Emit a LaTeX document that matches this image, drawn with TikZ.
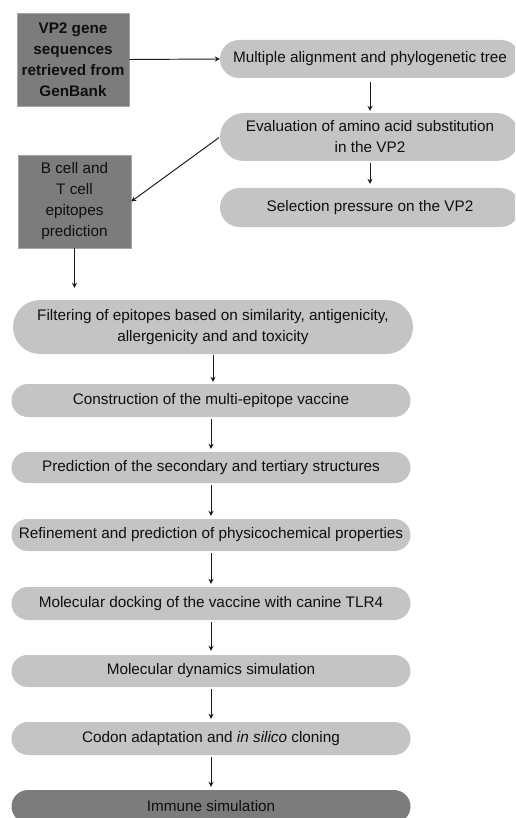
\documentclass[tikz,border=0pt]{standalone}
\usepackage{fontspec}
\setmainfont{Liberation Sans}
\usetikzlibrary{arrows.meta}
\definecolor{lightbox}{RGB}{196,196,196}
\definecolor{darkbox}{RGB}{124,124,124}
\definecolor{txt}{RGB}{15,15,15}
\begin{document}
\begin{tikzpicture}[x=1pt,y=-1pt,
  every node/.style={font=\fontsize{15.3}{21}\selectfont, text=txt, inner sep=0pt, align=center},
  sqbox/.style={rectangle, fill=darkbox, draw=gray!70, line width=0.5pt},
  pill/.style={rectangle, fill=lightbox, rounded corners=#1, minimum height=2*#1},
  arr/.style={-{Stealth[length=5pt,width=5pt]}, line width=0.95pt, draw=black!90}]
\useasboundingbox (0,0) rectangle (515,818);
\clip (0,0) rectangle (515,818);
% top left boxes
\node[sqbox, minimum width=112pt, minimum height=93pt, font=\fontsize{15.3}{21}\selectfont\bfseries] (vp2) at (73,59.5) {VP2 gene\\sequences\\retrieved from\\GenBank};
\node[sqbox, minimum width=113pt, minimum height=93pt] (bcell) at (74.5,201.5) {B cell and\\T cell\\epitopes\\prediction};
% right column
\node[pill=19pt, minimum width=300pt] (mult) at (370,59) {Multiple alignment and phylogenetic tree};
\node[pill=24pt, minimum width=300pt] (eval) at (370,137) {Evaluation of amino acid substitution\\in the VP2};
\node[pill=19.5pt, minimum width=300pt] (sel) at (370,207.5) {Selection pressure on the VP2};
% main column
\node[pill=27pt, minimum width=400pt] (filt) at (213,327) {Filtering of epitopes based on similarity, antigenicity,\\allergenicity and and toxicity};
\node[pill=16.5pt, minimum width=399pt] (cons) at (211,400.5) {Construction of the multi-epitope vaccine};
\node[pill=15.5pt, minimum width=399pt] (pred) at (211,467.5) {Prediction of the secondary and tertiary structures};
\node[pill=16pt, minimum width=399pt] (refi) at (211,535) {Refinement and prediction of physicochemical properties};
\node[pill=16.5pt, minimum width=399pt] (dock) at (211,603.5) {Molecular docking of the vaccine with canine TLR4};
\node[pill=16pt, minimum width=399pt] (md) at (211,671) {Molecular dynamics simulation};
\node[pill=16.5pt, minimum width=399pt] (codon) at (211,738.5) {Codon adaptation and \textit{in silico} cloning};
\node[pill=16.5pt, minimum width=399pt, fill=darkbox] (imm) at (211,806.5) {Immune simulation};
% connectors
\draw[arr] (vp2.east) -- (mult.west);
\draw[arr, shorten <=4pt, shorten >=2pt] (mult.south) -- (eval.north);
\draw[arr, shorten <=1pt] (eval.west) -- (bcell.east);
\draw[arr, shorten <=2pt, shorten >=4pt] (eval.south) -- (sel.north);
\draw[arr, shorten >=12pt] (bcell.south) -- (bcell.south |- filt.north);
\draw[arr, shorten <=1pt, shorten >=2pt] (filt.south) -- (filt.south |- cons.north);
\draw[arr, shorten <=2pt, shorten >=3pt] (cons.south) -- (pred.north);
\draw[arr, shorten <=2pt, shorten >=3pt] (pred.south) -- (refi.north);
\draw[arr, shorten <=2pt, shorten >=3pt] (refi.south) -- (dock.north);
\draw[arr, shorten <=2pt, shorten >=4pt] (dock.south) -- (md.north);
\draw[arr, shorten <=2pt, shorten >=3pt] (md.south) -- (codon.north);
\draw[arr, shorten <=2pt, shorten >=3pt] (codon.south) -- (imm.north);
\end{tikzpicture}
\end{document}
